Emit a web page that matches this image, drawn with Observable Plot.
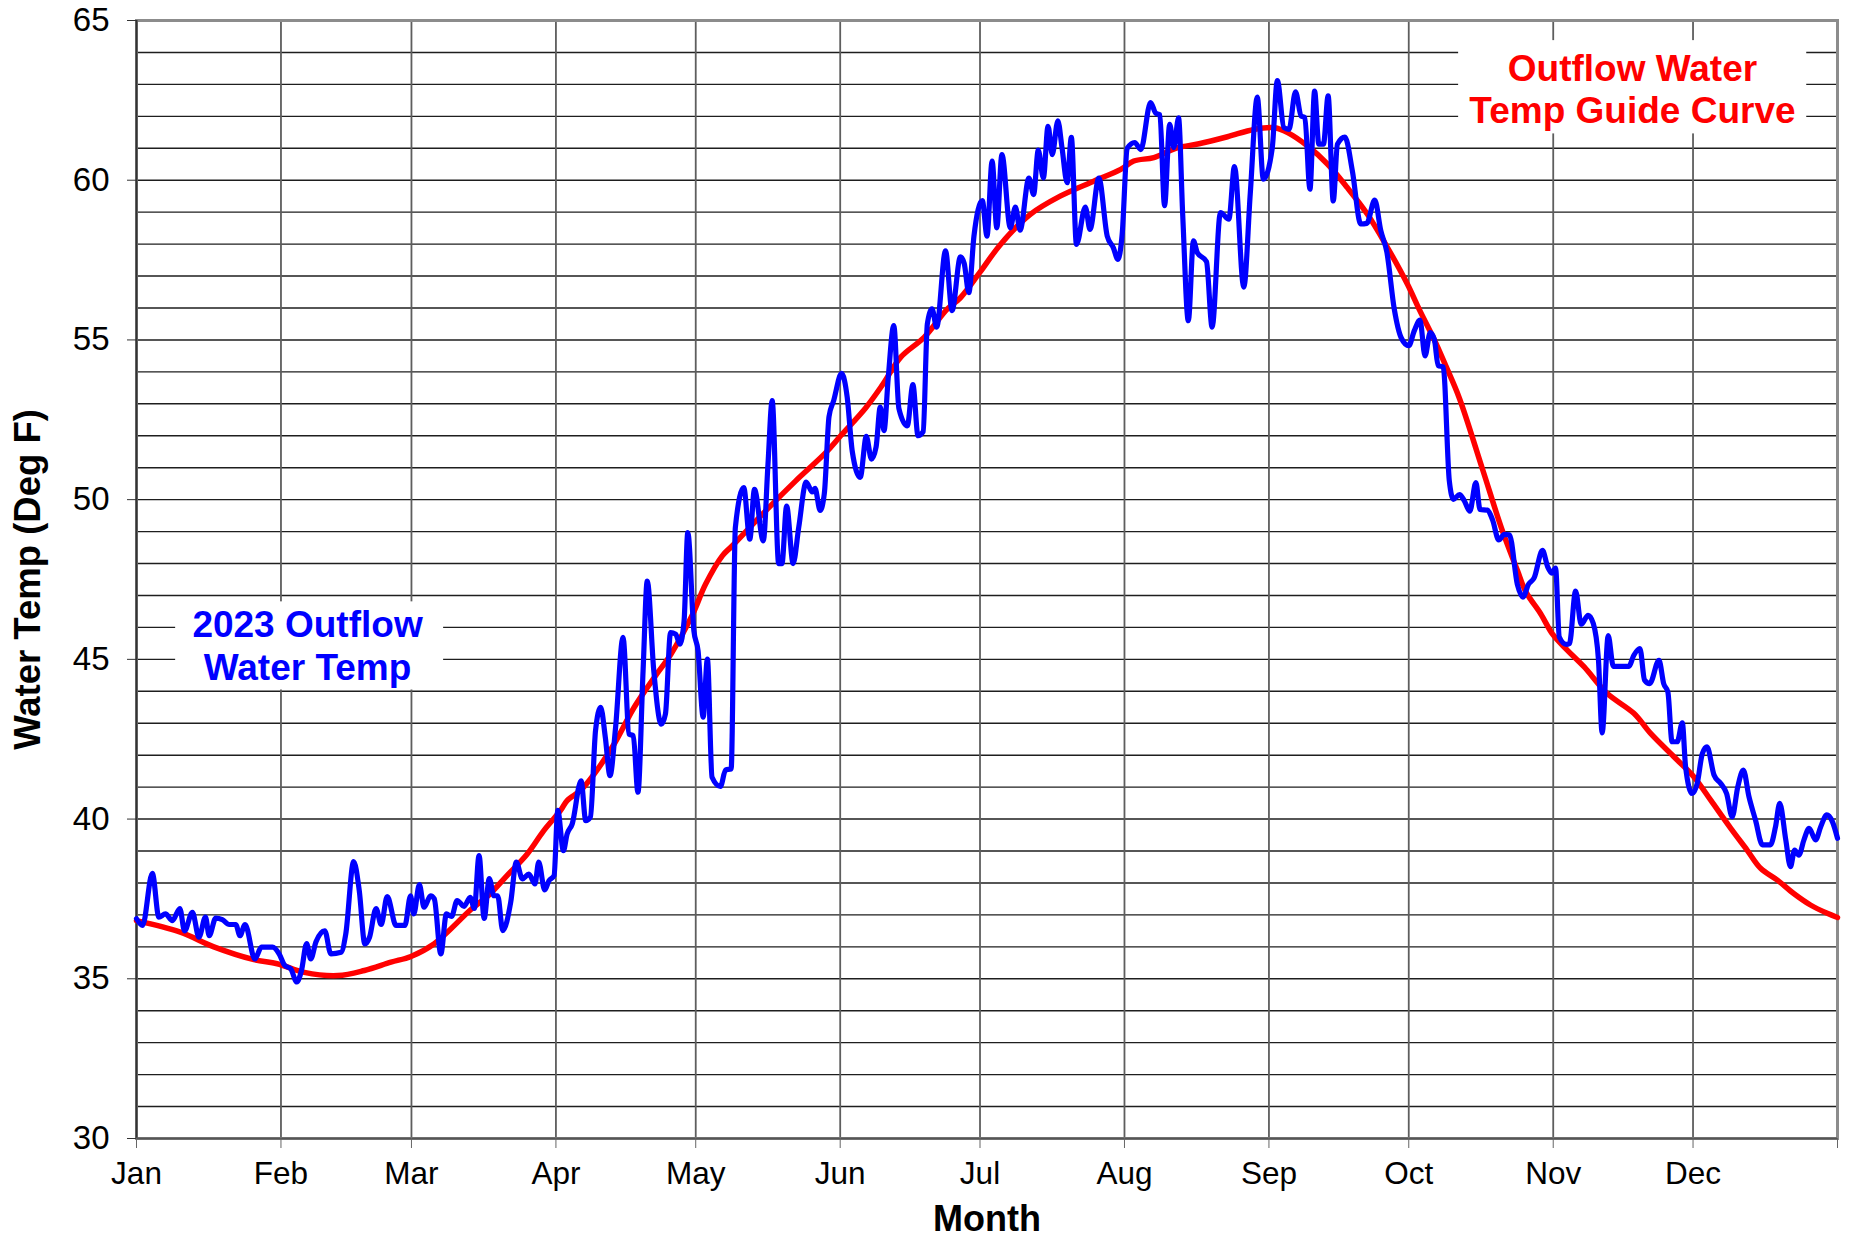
<!DOCTYPE html>
<html>
<head>
<meta charset="utf-8">
<script src="https://cdn.jsdelivr.net/npm/d3@7"></script>
<script src="https://cdn.jsdelivr.net/npm/@observablehq/plot@0.6"></script>
<style>
  html, body { margin: 0; padding: 0; background: #ffffff; }
  #chart svg { display: block; }
</style>
</head>
<body>
<div id="chart"></div>
<script>
// ---------- data ----------
const months = ["Jan", "Feb", "Mar", "Apr", "May", "Jun", "Jul", "Aug", "Sep", "Oct", "Nov", "Dec"];
const monthStartDays = [0, 31, 59, 90, 120, 151, 181, 212, 243, 273, 304, 334, 365];
const yTicks = [30, 35, 40, 45, 50, 55, 60, 65];

// 2023 outflow water temperature (day of year offset from Jan 1, deg F)
const outflowDays = [
  0, 1.3, 3.4, 4.8, 6.2, 7.7, 9.3, 10.3, 12, 13.4, 14.8, 15.6, 17, 18.4, 19.9, 21.3, 22.2, 23.3, 25.4, 26.8,
  29.2, 30.6, 31.8, 33.1, 34.4, 35.4, 36.5, 37.4, 38.5, 40.4, 41.7, 43.9, 44.9, 46.6, 47.8, 49, 50, 51.4, 52.5, 53.8,
  55.7, 57.6, 58.8, 59.5, 60.7, 61.7, 63.1, 63.9, 65.3, 66.5, 67.6, 68.8, 70.3, 71.6, 72.5, 73.5, 74.6, 75.7, 76.7, 77.5,
  78.6, 80.3, 81.5, 82.8, 84.2, 85.5, 86.3, 87.6, 88.5, 89.6, 90.4, 91.6, 92.4, 93.5, 95.4, 96.4, 97.4, 98.5, 99.6, 100.6,
  101.6, 102.8, 104.4, 105.7, 106.6, 107.6, 108.7, 109.6, 111, 112.6, 113.5, 114.6, 115.7, 116.6, 117.5, 118.3, 119.6, 120.5, 121.6, 122.5,
  123.5, 125.3, 126.4, 127.6, 128.5, 130.3, 131.6, 132.6, 134.5, 135.5, 136.4, 137.8, 138.5, 139.5, 140.9, 142.1, 143.7, 145, 145.6, 146.7,
  147.6, 148.6, 149.6, 151.3, 152.5, 153.6, 155.3, 156.6, 157.7, 158.7, 159.6, 160.4, 161.3, 162.5, 163.6, 165.4, 166.6, 167.7, 168.8, 169.7,
  170.7, 171.7, 173.6, 175, 176.8, 177.6, 178.6, 179.7, 181.5, 182.5, 183.6, 184.6, 185.7, 187.5, 188.6, 189.6, 191.5, 192.5, 193.5, 194.6,
  195.6, 196.5, 197.7, 198.6, 199.7, 200.6, 201.7, 203.6, 204.6, 206.5, 208.3, 209.6, 210.6, 211.5, 212.6, 214.2, 215.5, 217.6, 218.7, 219.6,
  220.6, 221.7, 222.6, 223.6, 224.5, 225.7, 226.8, 227.6, 229.6, 230.8, 232.6, 234.4, 235.6, 237.6, 239, 240.5, 241.8, 243.7, 244.8, 246.2,
  247.3, 248.7, 249.9, 250.7, 251.8, 252.8, 253.7, 254.7, 255.7, 256.8, 257.7, 259.3, 260.9, 262.7, 264, 265.7, 267, 268.3, 269.9, 271.4,
  273, 274.2, 275.4, 276.5, 277.6, 278.5, 279.3, 280.4, 281.7, 282.6, 283.9, 284.9, 286.1, 287.4, 288.3, 289.9, 291, 292.3, 293.5, 294.6,
  296.3, 297.5, 298.7, 299.9, 301.7, 302.8, 303.7, 304.5, 305.3, 306.8, 307.5, 308.8, 310, 311.5, 312.6, 313.7, 314.5, 315.8, 316.9, 320.2,
  321.3, 322.6, 323.6, 324.7, 326.7, 327.7, 328.6, 329.5, 330.6, 331.7, 332.4, 333.8, 334.9, 336, 337, 338.5, 339.9, 341.2, 342.4, 343.6,
  344.8, 346, 347.4, 348.9, 350.6, 351.7, 352.6, 353.9, 354.9, 355.8, 356.7, 357.8, 358.9, 360.3, 361.4, 362.7, 363.9, 365
];
const outflowTemps = [
  36.88, 36.67, 38.3, 36.93, 37.03, 36.82, 37.2, 36.5, 37.08, 36.3, 36.93, 36.35, 36.9, 36.85, 36.7, 36.7, 36.35, 36.7, 35.62, 35.99,
  35.99, 35.78, 35.42, 35.31, 34.9, 35.26, 36.1, 35.62, 36.15, 36.5, 35.78, 35.83, 36.4, 38.67, 37.76, 36.09, 36.3, 37.2, 36.7, 37.57,
  36.67, 36.67, 37.6, 37.03, 37.95, 37.24, 37.6, 37.5, 35.78, 37.03, 36.95, 37.45, 37.27, 37.55, 37.2, 38.86, 36.89, 38.14, 37.6, 37.6,
  36.51, 37.4, 38.65, 38.13, 38.28, 37.97, 38.65, 37.78, 38.07, 38.23, 40.27, 39.01, 39.53, 39.85, 41.2, 39.95, 40.06, 42.77, 43.5, 42.56,
  41.36, 42.87, 45.69, 42.66, 42.61, 40.84, 44.64, 47.45, 44.64, 42.97, 43.29, 45.84, 45.79, 45.48, 46.2, 48.97, 45.9, 45.27, 43.19, 45.01,
  41.31, 41.02, 41.54, 41.57, 49.13, 50.38, 48.76, 50.32, 48.71, 51.1, 53.1, 48.0, 48.0, 49.8, 48.0, 49.13, 50.55, 50.24, 50.35, 49.66,
  50.2, 52.6, 53.1, 53.95, 53.21, 51.5, 50.7, 51.98, 51.27, 51.65, 52.9, 52.16, 53.8, 55.45, 52.85, 52.31, 53.6, 52.0, 52.13, 55.5,
  55.97, 55.4, 57.79, 55.92, 57.6, 57.4, 56.48, 58.25, 59.36, 58.25, 60.6, 58.51, 60.8, 58.51, 59.16, 58.44, 60.07, 59.55, 60.94, 60.07,
  61.69, 60.8, 61.86, 61.01, 59.92, 61.34, 57.99, 59.16, 58.46, 60.07, 58.25, 57.89, 57.52, 58.3, 61.0, 61.18, 60.96, 62.43, 62.1, 62.05,
  59.2, 61.75, 61.02, 61.95, 58.9, 55.6, 58.1, 57.74, 57.45, 55.4, 58.99, 58.78, 60.43, 56.65, 59.6, 62.6, 60.03, 61.0, 63.12, 61.65,
  61.59, 62.77, 62.01, 61.96, 59.72, 62.79, 61.13, 61.13, 62.64, 59.35, 61.13, 61.35, 60.29, 58.63, 58.65, 59.38, 58.42, 57.75, 55.96, 55.06,
  54.82, 55.29, 55.62, 54.5, 55.23, 55.01, 54.2, 54.15, 50.59, 50.01, 50.16, 49.97, 49.64, 50.53, 49.69, 49.67, 49.36, 48.74, 48.91, 48.9,
  47.35, 46.95, 47.35, 47.55, 48.41, 47.9, 47.7, 47.86, 45.7, 45.47, 45.5, 47.14, 46.1, 46.38, 46.12, 45.0, 42.7, 45.74, 44.78, 44.78,
  45.13, 45.34, 44.35, 44.24, 44.97, 44.24, 43.98, 42.42, 42.42, 43.01, 41.64, 40.8, 41.12, 42.05, 42.26, 41.38, 41.12, 40.8, 40.07, 41.01,
  41.53, 40.7, 39.97, 39.19, 39.19, 39.76, 40.49, 39.35, 38.51, 39.03, 38.87, 39.35, 39.71, 39.35, 39.76, 40.13, 39.92, 39.4
];

// Outflow water temperature guide curve
const guideDays = [
  0, 9.4, 16.6, 25.2, 30.2, 36, 43.2, 48.9, 54.6, 58.9, 63.9, 71.7, 75.8, 79.5, 83.8, 87.4, 91, 92.4, 95.3, 98.2,
  102.5, 106.8, 111.1, 114.7, 119.3, 122.1, 125.7, 127.8, 135, 141.4, 147.9, 151.1, 156.5, 160.1, 164, 169, 174, 176.8, 181, 185.4,
  191.8, 198.2, 205.4, 211.2, 214, 218.3, 223.3, 228, 234.1, 239.8, 244.2, 247, 251.3, 255.6, 259.8, 264.1, 268.4, 272.7, 275.3, 278.4,
  281, 283.9, 288.9, 293.1, 296.3, 298.1, 301.3, 303.9, 307, 310.6, 315.6, 321.3, 324.9, 329.9, 334.2, 337.8, 342.1, 345.6, 348.5, 352.1,
  355.6, 359.2, 362.8, 365
];
const guideTemps = [
  36.82, 36.46, 36.0, 35.6, 35.47, 35.2, 35.1, 35.26, 35.52, 35.7, 36.1, 37.16, 37.65, 38.23, 38.9, 39.64, 40.27, 40.58, 40.9, 41.41,
  42.35, 43.5, 44.43, 45.17, 46.4, 47.35, 48.24, 48.55, 49.65, 50.58, 51.47, 52.0, 52.88, 53.6, 54.46, 55.08, 55.97, 56.32, 57.12, 57.99,
  58.93, 59.5, 59.97, 60.34, 60.6, 60.71, 61.01, 61.14, 61.36, 61.59, 61.64, 61.49, 61.07, 60.5, 59.77, 58.94, 57.9, 56.75, 55.94, 55.03,
  54.17, 53.16, 50.92, 49.02, 47.79, 47.12, 46.43, 45.78, 45.29, 44.77, 43.93, 43.31, 42.68, 41.95, 41.32, 40.59, 39.71, 39.03, 38.46, 38.09,
  37.67, 37.31, 37.05, 36.92
];

const guideLabel = "Outflow Water\nTemp Guide Curve";
const outflowLabel = "2023 Outflow\nWater Temp";
const xTitle = "Month";
const yTitle = "Water Temp (Deg F)";

// ---------- build tables ----------
const outflow = outflowDays.map((d, i) => ({day: d, temp: outflowTemps[i]}));
const guide = guideDays.map((d, i) => ({day: d, temp: guideTemps[i]}));
const monthByDay = new Map(monthStartDays.map((d, i) => [d, months[i] ?? ""]));

// annotation placement (data units)
const labelBoxes = [
  {x1: 283.7, x2: 358.4, y1: 61.45, y2: 64.37},
  {x1: 8.4, x2: 65.9, y1: 44.04, y2: 46.8}
];
const labels = [
  {day: 321, temp: 62.88, text: guideLabel, color: "#ff0000"},
  {day: 36.7, temp: 45.45, text: outflowLabel, color: "#0000ff"}
];

const chart = Plot.plot({
  width: 1850,
  height: 1239,
  marginLeft: 136,
  marginRight: 13,
  marginTop: 20,
  marginBottom: 101,
  x: {domain: [0, 365]},
  y: {domain: [30, 65]},
  style: {fontFamily: "'Liberation Sans', Arial, sans-serif", color: "#000", background: "#fff", overflow: "visible"},
  marks: [
    Plot.gridY(d3.range(31, 65), {stroke: "#1e1e1e", strokeOpacity: 1, strokeWidth: 1.4}),
    Plot.gridX(monthStartDays.slice(1, -1), {stroke: "#5e5e5e", strokeOpacity: 1, strokeWidth: 1.8}),
    Plot.rect(labelBoxes, {x1: "x1", x2: "x2", y1: "y1", y2: "y2", fill: "#fff"}),
    Plot.frame({stroke: "#8c8c8c", strokeWidth: 3}),
    Plot.ruleX([0], {stroke: "#333", strokeWidth: 2}),
    Plot.ruleY([30], {stroke: "#555", strokeWidth: 2}),
    Plot.axisY({ticks: yTicks, tickSize: 9, tickPadding: 18, fontSize: 33, label: null, stroke: "#333"}),
    Plot.axisX({ticks: monthStartDays, tickFormat: d => monthByDay.get(d), tickSize: 10, tickPadding: 13, fontSize: 31.5, label: null, stroke: "#666"}),
    Plot.line(guide, {x: "day", y: "temp", stroke: "#ff0000", strokeWidth: 5.5, curve: "catmull-rom"}),
    Plot.line(outflow, {x: "day", y: "temp", stroke: "#0000ff", strokeWidth: 5.2, curve: "monotone-x"}),
    Plot.text(labels, {x: "day", y: "temp", text: "text", fill: "color", fontSize: 37, fontWeight: "bold", lineHeight: 1.16, lineAnchor: "middle", textAnchor: "middle"}),
    Plot.text([xTitle], {frameAnchor: "bottom", dy: 81, lineAnchor: "middle", textAnchor: "middle", fontSize: 36, fontWeight: "bold"}),
    Plot.text([yTitle], {frameAnchor: "left", dx: -108, rotate: -90, lineAnchor: "middle", textAnchor: "middle", fontSize: 36.5, fontWeight: "bold"})
  ]
});
document.getElementById("chart").appendChild(chart);
</script>
</body>
</html>
